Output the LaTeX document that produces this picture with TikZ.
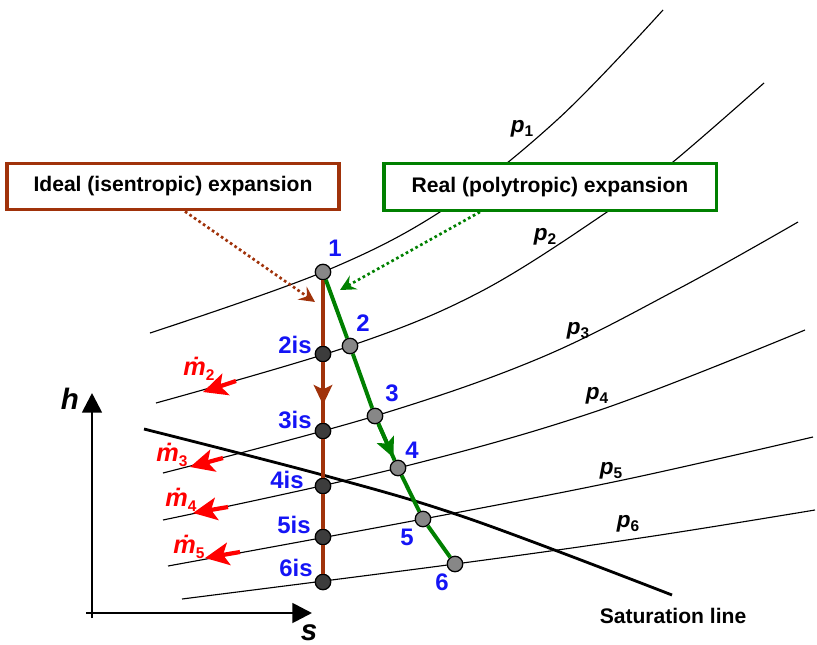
\documentclass[tikz,border=0pt]{standalone}
\usepackage{fontspec}
\setmainfont{Liberation Sans}
\usetikzlibrary{arrows.meta,calc}
\definecolor{isobrown}{RGB}{160,50,10}
\definecolor{polygreen}{RGB}{0,128,0}
\definecolor{statblue}{RGB}{20,20,245}
\definecolor{ptgrey}{RGB}{135,135,135}
\definecolor{ptdark}{RGB}{60,60,60}
\newcommand{\pidx}[1]{\raisebox{-0.35ex}{\fontsize{11}{11}\selectfont\upshape #1}}

\begin{document}
\begin{tikzpicture}[x=0.025cm, y=-0.025cm,
    isobar/.style={line width=0.8pt},
    satline/.style={line width=2pt},
    state/.style={circle, draw, line width=0.9pt, minimum size=11pt, inner sep=0pt, fill=ptgrey},
    isstate/.style={state, fill=ptdark},
    numlbl/.style={text=statblue, inner sep=0pt, font=\fontsize{17}{17}\selectfont\bfseries},
    plbl/.style={inner sep=0pt, font=\fontsize{16}{16}\selectfont\bfseries\itshape},
    mlbl/.style={inner sep=0pt, text=red, font=\fontsize{18}{18}\selectfont\bfseries\itshape},
    box/.style={draw, line width=2.2pt, fill=white, minimum width=8.3cm, minimum height=1.17cm,
                font=\fontsize{15}{15}\selectfont\bfseries},
    idealline/.style={line width=2.8pt, isobrown},
    realline/.style={line width=2.8pt, polygreen},
    hint/.style={dotted, line width=1.9pt, -{Stealth[length=11pt, width=11pt, inset=4pt]}},
    bleed/.style={red, line width=3pt, -{Stealth[length=17pt, width=16pt, inset=4pt]}},
    axis/.style={line width=2pt, -{Triangle[length=14pt, width=14pt]}}
  ]
  \useasboundingbox (0,0) rectangle (817,645);

  \draw[isobar] plot[smooth, tension=0.6] coordinates
    {(150,333) (323,272) (443,210) (557,120) (663,10)};
  \draw[isobar] plot[smooth, tension=0.6] coordinates
    {(156,403) (350,346) (480,292) (607,212) (673,162) (764,83)};
  \draw[isobar] plot[smooth, tension=0.6] coordinates
    {(163,473) (375,416) (540,358) (680,288) (798,222)};
  \draw[isobar] plot[smooth, tension=0.6] coordinates
    {(163,520) (398,468) (600,410) (805,330)};
  \draw[isobar] plot[smooth, tension=0.6] coordinates
    {(168,566) (423,519) (623,480) (813,437)};
  \draw[isobar] plot[smooth, tension=0.6] coordinates
    {(182,599) (455,564) (647,537) (815,510)};
  \draw[satline] plot[smooth, tension=0.6] coordinates
    {(144,429) (330,477) (470,519) (672,595)};

  \node[plbl] (p1) at (522,129) {p\pidx{1}};
  \node[plbl] (p2) at (545,237) {p\pidx{2}};
  \node[plbl] (p3) at (578,331) {p\pidx{3}};
  \node[plbl] (p4) at (597,396) {p\pidx{4}};
  \node[plbl] (p5) at (611,471) {p\pidx{5}};
  \node[plbl] (p6) at (628,524) {p\pidx{6}};
  \node[font=\fontsize{15}{15}\selectfont\bfseries] (sat) at (673,616) {Saturation line};

  \coordinate (hbot) at (92,618);
  \coordinate (htop) at (92,393);
  \coordinate (sleft) at (86,613);
  \coordinate (sright) at (312,613);
  \draw[axis] (hbot) -- (htop);
  \draw[axis] (sleft) -- (sright);
  \node[font=\fontsize{21}{21}\selectfont\bfseries\itshape] (h) at (70,399) {h};
  \node[font=\fontsize{21}{21}\selectfont\bfseries\itshape] (s) at (309,633) {s};

  \node[state] (n1) at (323,272) {};
  \node[isstate] (n2is) at (323,354) {};
  \node[isstate] (n3is) at (323,431) {};
  \node[isstate] (n4is) at (323,486) {};
  \node[isstate] (n5is) at (323,537) {};
  \node[isstate] (n6is) at (323,582) {};
  \node[state] (n2) at (350,346) {};
  \node[state] (n3) at (375,416) {};
  \node[state] (n4) at (398,468) {};
  \node[state] (n5) at (423,519) {};
  \node[state] (n6) at (455,564) {};

  \draw[idealline] (n1) -- (n2is);
  \draw[idealline] (n2is) -- (n3is);
  \draw[idealline] (n3is) -- (n4is);
  \draw[idealline] (n4is) -- (n5is);
  \draw[idealline] (n5is) -- (n6is);
  \draw[idealline, -{Stealth[length=14pt, width=13pt, inset=3pt]}] (n2is) -- ($(n2is)!0.66!(n3is)$);
  \draw[realline] (n1) -- (n2);
  \draw[realline] (n2) -- (n3);
  \draw[realline] (n3) -- (n4);
  \draw[realline] (n4) -- (n5);
  \draw[realline] (n5) -- (n6);
  \draw[realline, -{Stealth[length=14pt, width=13pt, inset=3pt]}] (n3) -- ($(n3)!0.8!(n4)$);

  \node[numlbl] (l1) at ($(n1)+(12,-24)$) {1};
  \node[numlbl] (l2) at ($(n2)+(13,-23)$) {2};
  \node[numlbl] (l3) at ($(n3)+(17,-23)$) {3};
  \node[numlbl] (l4) at ($(n4)+(14,-18)$) {4};
  \node[numlbl] (l5) at ($(n5)+(-16,18)$) {5};
  \node[numlbl] (l6) at ($(n6)+(-13,18)$) {6};
  \node[numlbl] (l2is) at ($(n2is)+(-28,-9)$) {2is};
  \node[numlbl] (l3is) at ($(n3is)+(-28,-11)$) {3is};
  \node[numlbl] (l4is) at ($(n4is)+(-36,-6)$) {4is};
  \node[numlbl] (l5is) at ($(n5is)+(-29,-12)$) {5is};
  \node[numlbl] (l6is) at ($(n6is)+(-27,-14)$) {6is};

  \coordinate (m2a) at (236,381);
  \coordinate (m2b) at (203,392);
  \coordinate (m3a) at (223,458);
  \coordinate (m3b) at (190,467);
  \coordinate (m4a) at (228,507);
  \coordinate (m4b) at (193,513);
  \coordinate (m5a) at (240,552);
  \coordinate (m5b) at (205,558);
  \draw[bleed] (m2a) -- (m2b);
  \draw[bleed] (m3a) -- (m3b);
  \draw[bleed] (m4a) -- (m4b);
  \draw[bleed] (m5a) -- (m5b);
  \node[mlbl] (m2) at (199,369) {ṁ\pidx{2}};
  \node[mlbl] (m3) at (172,455) {ṁ\pidx{3}};
  \node[mlbl] (m4) at (181,500) {ṁ\pidx{4}};
  \node[mlbl] (m5) at (189,547) {ṁ\pidx{5}};

  \node[box, draw=isobrown] (ideal) at (173,186.5) {Ideal (isentropic) expansion};
  \node[box, draw=polygreen] (real) at (550,187) {Real (polytropic) expansion};
  \coordinate (idealtip) at (315,302);
  \coordinate (realtip) at (340,290);
  \draw[hint, isobrown] ([xshift=0.3cm]ideal.south) -- (idealtip);
  \draw[hint, polygreen] ([xshift=-1.75cm]real.south) -- (realtip);
\end{tikzpicture}
\end{document}
